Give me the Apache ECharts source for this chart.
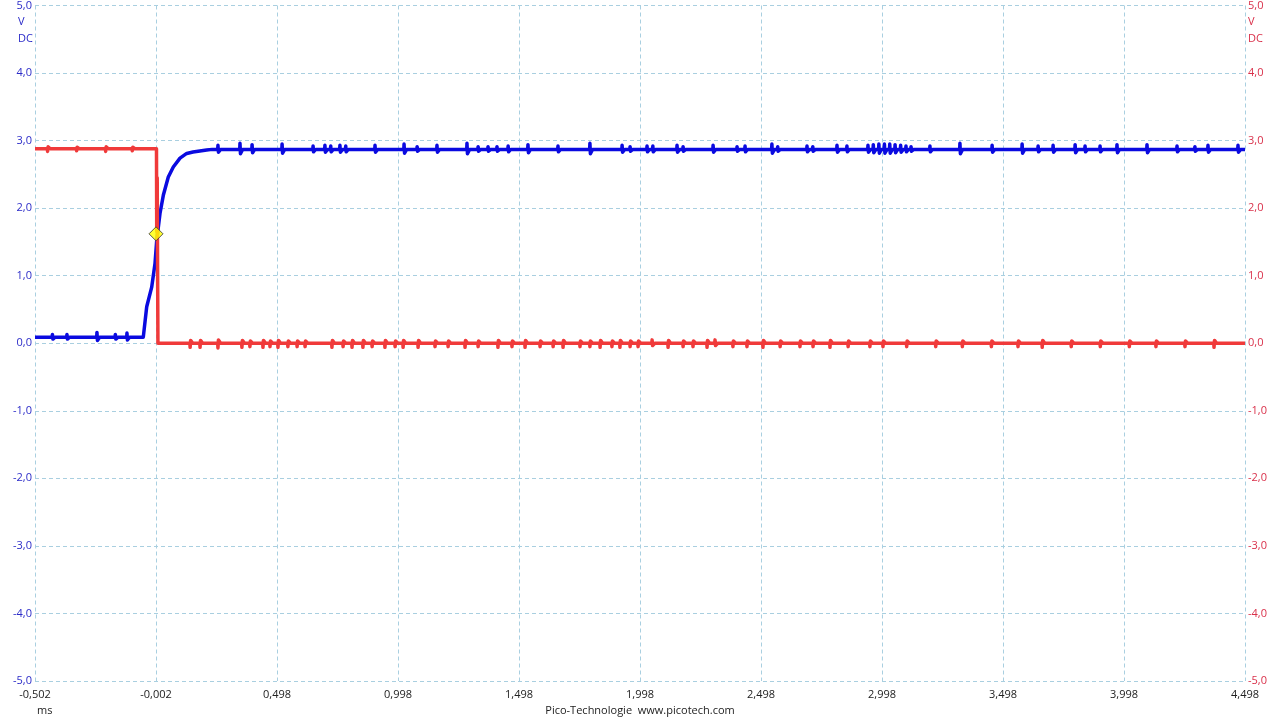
<!DOCTYPE html>
<html>
<head>
<meta charset="utf-8">
<script src="https://cdn.jsdelivr.net/npm/echarts@6/dist/echarts.min.js"></script>
<style>
html,body{margin:0;padding:0;background:#fff;}
#chart{width:1280px;height:720px;}
</style>
</head>
<body>
<div id="chart"></div>
<script>
// ---- data (time in ms, voltage in V) ----
const timeMin = -0.502;
const timeMax = 4.498;

// channel A (blue) main shape
const blueShapeT = [-0.502, -0.0545, -0.0404, -0.0198, -0.0061, 0.0009, 0.0145, 0.0282, 0.0488, 0.0695, 0.0972, 0.1249, 0.1509, 0.2075, 0.23, 4.498];
const blueShapeV = [0.09, 0.09, 0.54, 0.83, 1.18, 1.52, 1.92, 2.19, 2.46, 2.61, 2.74, 2.81, 2.83, 2.86, 2.87, 2.87];
// blue glitches (time, amplitude)
const blueSpikeT = [-0.43, -0.37, -0.246, -0.17, -0.122, 0.254, 0.345, 0.395, 0.519, 0.647, 0.696, 0.720, 0.758, 0.782, 0.903, 1.023, 1.077, 1.159, 1.283, 1.329, 1.370, 1.407, 1.453, 1.535, 1.659, 1.791, 1.924, 1.957, 2.027, 2.051, 2.151, 2.176, 2.300, 2.399, 2.432, 2.543, 2.567, 2.688, 2.712, 2.812, 2.853, 2.940, 2.962, 2.985, 3.008, 3.030, 3.052, 3.075, 3.097, 3.118, 3.196, 3.320, 3.453, 3.577, 3.643, 3.705, 3.796, 3.837, 3.899, 3.969, 4.093, 4.217, 4.291, 4.345, 4.469];
const blueSpikeA = [0.04, 0.04, 0.07, 0.04, 0.06, 0.06, 0.09, 0.07, 0.08, 0.05, 0.06, 0.05, 0.06, 0.05, 0.06, 0.08, 0.04, 0.06, 0.09, 0.04, 0.04, 0.04, 0.05, 0.07, 0.05, 0.09, 0.06, 0.04, 0.05, 0.05, 0.06, 0.04, 0.06, 0.04, 0.05, 0.08, 0.04, 0.05, 0.04, 0.06, 0.05, 0.06, 0.07, 0.08, 0.08, 0.08, 0.07, 0.06, 0.05, 0.04, 0.05, 0.09, 0.06, 0.08, 0.05, 0.06, 0.07, 0.05, 0.05, 0.07, 0.07, 0.05, 0.04, 0.06, 0.06];

// channel B (red) main shape
const redShapeT = [-0.502, 0.000, 0.001, 0.003, 0.004, 0.006, 4.498];
const redShapeV = [2.88, 2.88, 1.65, 2.45, 1.55, 0.0, 0.0];
// red glitches (time, amplitude; negative = downward)
const redSpikeT = [-0.45, -0.33, -0.21, -0.10, 0.139, 0.180, 0.254, 0.353, 0.386, 0.440, 0.469, 0.502, 0.543, 0.581, 0.614, 0.725, 0.771, 0.808, 0.853, 0.891, 0.944, 0.986, 1.019, 1.081, 1.151, 1.205, 1.275, 1.329, 1.411, 1.469, 1.523, 1.585, 1.639, 1.680, 1.750, 1.791, 1.833, 1.882, 1.915, 1.957, 1.990, 2.048, 2.114, 2.176, 2.217, 2.275, 2.308, 2.382, 2.440, 2.506, 2.577, 2.659, 2.713, 2.783, 2.858, 2.948, 3.002, 3.10, 3.22, 3.33, 3.45, 3.56, 3.66, 3.78, 3.90, 4.02, 4.13, 4.25, 4.37];
const redSpikeA = [-0.04, -0.03, -0.04, -0.03, -0.06, -0.06, -0.07, -0.06, -0.05, -0.06, -0.05, -0.06, -0.05, -0.05, -0.05, -0.06, -0.05, -0.06, -0.06, -0.05, -0.06, -0.05, -0.06, -0.06, -0.05, -0.05, -0.06, -0.05, -0.06, -0.05, -0.06, -0.05, -0.05, -0.06, -0.05, -0.05, -0.06, -0.05, -0.06, -0.05, -0.05, 0.05, -0.06, -0.05, -0.05, -0.06, 0.05, -0.05, -0.05, -0.06, -0.05, -0.05, -0.05, -0.06, -0.05, -0.05, -0.05, -0.05, -0.05, -0.05, -0.05, -0.05, -0.06, -0.05, -0.05, -0.05, -0.05, -0.05, -0.06];

// trigger marker
const triggerT = -0.002;
const triggerV = 1.62;

// axis ticks
const yMin = -5, yMax = 5, yStep = 1;
const xStep = 0.5;

// ---- build series ----
function levelAt(tArr, vArr, t) {
  let lv = vArr[0];
  for (let i = 0; i < tArr.length; i++) { if (tArr[i] <= t) lv = vArr[i]; }
  return lv;
}
function buildTrace(shT, shV, spT, spA) {
  const pts = shT.map((t, i) => [t, shV[i]]);
  spT.forEach((t, i) => {
    const L = levelAt(shT, shV, t);
    const a = spA[i];
    pts.push([t - 0.001, L], [t, L + a], [t + 0.002, L - a * 0.7], [t + 0.011, L]);
  });
  pts.sort((p, q) => p[0] - q[0]);
  return pts.map(p => [p[0] - timeMin, p[1]]);
}
const blueData = buildTrace(blueShapeT, blueShapeV, blueSpikeT, blueSpikeA);
const redData = buildTrace(redShapeT, redShapeV, redSpikeT, redSpikeA);

const fmtNum = (v, d) => v.toFixed(d).replace('.', ',');
const FONT = 'Open Sans';
const gridColor = '#a9cfe0';
const blueText = '#2b2bc8';
const redText = '#d9304a';

const chart = echarts.init(document.getElementById('chart'));
chart.setOption({
  animation: false,
  backgroundColor: '#ffffff',
  grid: { left: 35, right: 35, top: 5, bottom: 39, containLabel: false },
  xAxis: {
    type: 'value', min: 0, max: timeMax - timeMin, interval: xStep,
    axisLine: { show: false }, axisTick: { show: false },
    splitLine: { show: true, lineStyle: { color: gridColor, type: [4, 3], width: 1 } },
    axisLabel: {
      color: '#222', fontFamily: FONT, fontSize: 11, margin: 8,
      showMinLabel: true, showMaxLabel: true,
      formatter: v => fmtNum(v + timeMin, 3)
    }
  },
  yAxis: [
    {
      type: 'value', min: yMin, max: yMax, interval: yStep, position: 'left',
      axisLine: { show: false }, axisTick: { show: false },
      splitLine: { show: true, lineStyle: { color: gridColor, type: [4, 3], width: 1 } },
      axisLabel: { color: blueText, fontFamily: FONT, fontSize: 11, margin: 3, formatter: v => fmtNum(v, 1) }
    },
    {
      type: 'value', min: yMin, max: yMax, interval: yStep, position: 'right',
      axisLine: { show: false }, axisTick: { show: false },
      splitLine: { show: false },
      axisLabel: { color: redText, fontFamily: FONT, fontSize: 11, margin: 3, formatter: v => fmtNum(v, 1) }
    }
  ],
  series: [
    {
      type: 'line', yAxisIndex: 0, data: blueData, showSymbol: false, symbol: 'none',
      lineStyle: { color: '#0a0ae0', width: 3.5, join: 'round' }, z: 2
    },
    {
      type: 'line', yAxisIndex: 1, data: redData, showSymbol: false, symbol: 'none',
      lineStyle: { color: '#f03a3a', width: 3.5, join: 'round' }, z: 3
    },
    {
      type: 'scatter', yAxisIndex: 0, data: [[triggerT - timeMin, triggerV]],
      symbol: 'diamond', symbolSize: [14, 14],
      itemStyle: { color: '#ffff00', borderColor: '#333', borderWidth: 1 }, z: 5
    }
  ],
  graphic: [
    { type: 'text', left: 18, top: 16, style: { text: 'V', fill: blueText, font: '11px "Open Sans"' } },
    { type: 'text', left: 18, top: 33, style: { text: 'DC', fill: blueText, font: '11px "Open Sans"' } },
    { type: 'text', left: 1248, top: 16, style: { text: 'V', fill: redText, font: '11px "Open Sans"' } },
    { type: 'text', left: 1248, top: 33, style: { text: 'DC', fill: redText, font: '11px "Open Sans"' } },
    { type: 'text', left: 37, top: 705, style: { text: 'ms', fill: '#222', font: '11px "Open Sans"' } },
    { type: 'text', left: 'center', top: 705, style: { text: 'Pico-Technologie  www.picotech.com', fill: '#222', font: '11px "Open Sans"' } }
  ]
});
</script>
</body>
</html>
